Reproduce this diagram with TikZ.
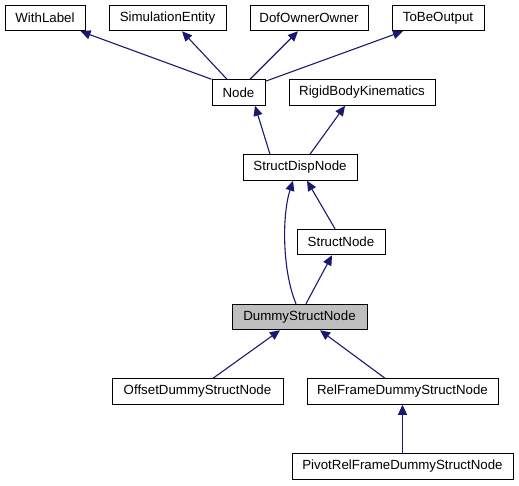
\documentclass[tikz,border=0pt]{standalone}
\usepackage{fontspec}
\setmainfont{Liberation Sans}
\usetikzlibrary{arrows.meta,calc}
\definecolor{edgecol}{RGB}{25,25,112}
\definecolor{hlgray}{RGB}{191,191,191}
\begin{document}
\begin{tikzpicture}[x=1pt,y=-1pt,
  cls/.style={draw=black,line width=1pt,fill=white,minimum height=25.5pt,inner sep=0pt,font=\fontsize{13.3}{15}\selectfont},
  edge/.style={draw=edgecol,line width=1.1pt,-{Triangle[length=10pt,width=9pt]}}]
\useasboundingbox (0,0) rectangle (519,485);
\node[cls,minimum width=80pt] (wl) at (45,18) {WithLabel};
\node[cls,minimum width=117pt] (se) at (167.5,18) {SimulationEntity};
\node[cls,minimum width=118pt] (doo) at (309,18) {DofOwnerOwner};
\node[cls,minimum width=92pt] (tbo) at (438,18) {ToBeOutput};
\node[cls,minimum width=53pt] (node) at (238.5,92.5) {Node};
\node[cls,minimum width=146pt] (rbk) at (362,92.5) {RigidBodyKinematics};
\node[cls,minimum width=114pt] (sdn) at (300,167.5) {StructDispNode};
\node[cls,minimum width=88pt] (sn) at (341,242) {StructNode};
\node[cls,minimum width=135pt,fill=hlgray] (dsn) at (299.5,317) {DummyStructNode};
\node[cls,minimum width=171pt] (odsn) at (197.5,391.5) {OffsetDummyStructNode};
\node[cls,minimum width=191pt] (rfdsn) at (402.5,391.5) {RelFrameDummyStructNode};
\node[cls,minimum width=221pt] (prfdsn) at (402.5,466.5) {PivotRelFrameDummyStructNode};
\draw[edge] (node.north west) -- ([xshift=-5pt]wl.south east);
\draw[edge] ([xshift=-11.5pt]node.north) -- ([xshift=14.5pt]se.south);
\draw[edge] ([xshift=11.5pt]node.north) -- ([xshift=-11pt]doo.south);
\draw[edge] ([yshift=-2pt]node.north east) -- ([xshift=-35pt]tbo.south);
\draw[edge] ([xshift=-30pt]sdn.north) -- ([xshift=16.5pt]node.south);
\draw[edge] ([xshift=10pt]sdn.north) -- ([xshift=-17pt]rbk.south);
\draw[edge] ([xshift=-6pt]sn.north) -- ([xshift=7pt]sdn.south);
\draw[edge] ([xshift=6.5pt]dsn.north) -- ([xshift=-9pt]sn.south);
\draw[edge] ([xshift=-3.5pt]dsn.north) .. controls (282,270) and (282,215) .. ([xshift=-7pt]sdn.south);
\draw[edge] ([xshift=15.5pt]odsn.north) -- ([xshift=-19.5pt]dsn.south);
\draw[edge] ([xshift=-17.5pt]rfdsn.north) -- ([xshift=20.5pt]dsn.south);
\draw[edge] (prfdsn.north) -- (rfdsn.south);
\end{tikzpicture}
\end{document}
